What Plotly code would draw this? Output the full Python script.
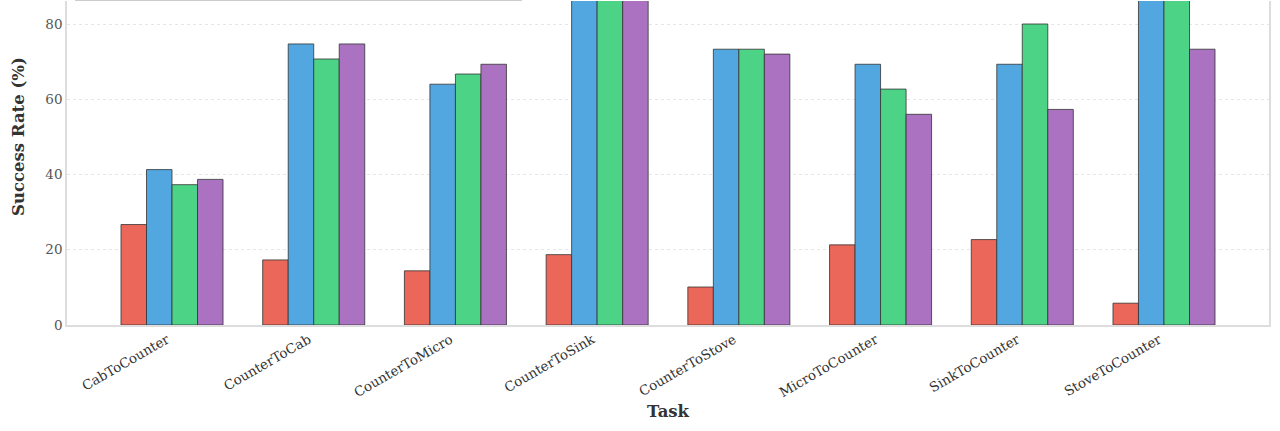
import plotly.graph_objects as go

tasks = ["CabToCounter", "CounterToCab", "CounterToMicro", "CounterToSink",
         "CounterToStove", "MicroToCounter", "SinkToCounter", "StoveToCounter"]
series_names = ["Method A", "Method B", "Method C", "Method D"]
vals_a = [26.7, 17.3, 14.4, 18.7, 10.1, 21.3, 22.7, 5.8]
vals_b = [41.3, 74.7, 64.0, 92.0, 73.3, 69.3, 69.3, 93.0]
vals_c = [37.3, 70.7, 66.7, 95.0, 73.3, 62.7, 80.0, 94.0]
vals_d = [38.7, 74.7, 69.3, 93.0, 72.0, 56.0, 57.3, 73.3]
colors = ["#EB6759", "#52A7E0", "#4DD386", "#AA72C1"]
y_ticks = [0, 20, 40, 60, 80]

fig = go.Figure()
for name, vals, col in zip(series_names, [vals_a, vals_b, vals_c, vals_d], colors):
    fig.add_trace(go.Bar(x=tasks, y=vals, name=name, marker_color=col,
                         marker_line=dict(color="#333333", width=0.8)))

W, H = 1280, 431
L, R, T, B = 67, 11, 1, 106
plot_h = H - T - B
ppu = 3.7625
ytop = plot_h / ppu
pw = W - L - R

fig.update_layout(
    width=W, height=H,
    margin=dict(l=L, r=R, t=T, b=B),
    paper_bgcolor="white", plot_bgcolor="white",
    barmode="group", bargap=0.28, bargroupgap=0,
    showlegend=False,
    font=dict(family="DejaVu Serif", color="#333333"),
    xaxis=dict(range=[-0.741, 7.741], tickangle=-30, ticklabelshift=-5,
               tickfont=dict(family="DejaVu Serif", size=13.4, color="#333333"),
               showline=True, linecolor="#dddddd", linewidth=1.5, mirror=False,
               ticks="", showgrid=False,
               title=dict(text="<b>Task</b>", font=dict(family="DejaVu Serif", size=16.5, color="#333333"),
                          standoff=6)),
    yaxis=dict(range=[0, ytop], tickvals=y_ticks,
               tickfont=dict(family="DejaVu Serif", size=13.5, color="#555555"),
               showline=True, linecolor="#dddddd", linewidth=1.5, mirror=True,
               ticks="", ticklen=0,
               showgrid=True, gridcolor="#e6e6e6", griddash="dot", gridwidth=1,
               zeroline=False),
)

# y-axis title (axis extends above the visible window)
fig.add_annotation(text="<b>Success Rate (%)</b>", xref="paper", yref="paper",
                   x=-(L - 18) / pw, y=(H - B - 137) / plot_h,
                   xanchor="center", yanchor="middle", textangle=-90, showarrow=False,
                   font=dict(family="DejaVu Serif", size=16.5, color="#333333"))

# bottom edge of legend frame visible at the top of the window
fig.add_shape(type="line", xref="paper", yref="paper",
              x0=(75 - L) / pw, x1=(522 - L) / pw,
              y0=1.0 + 0.5 / plot_h, y1=1.0 + 0.5 / plot_h,
              line=dict(color="#cccccc", width=1.2), layer="above")

fig.write_html("out.html")
